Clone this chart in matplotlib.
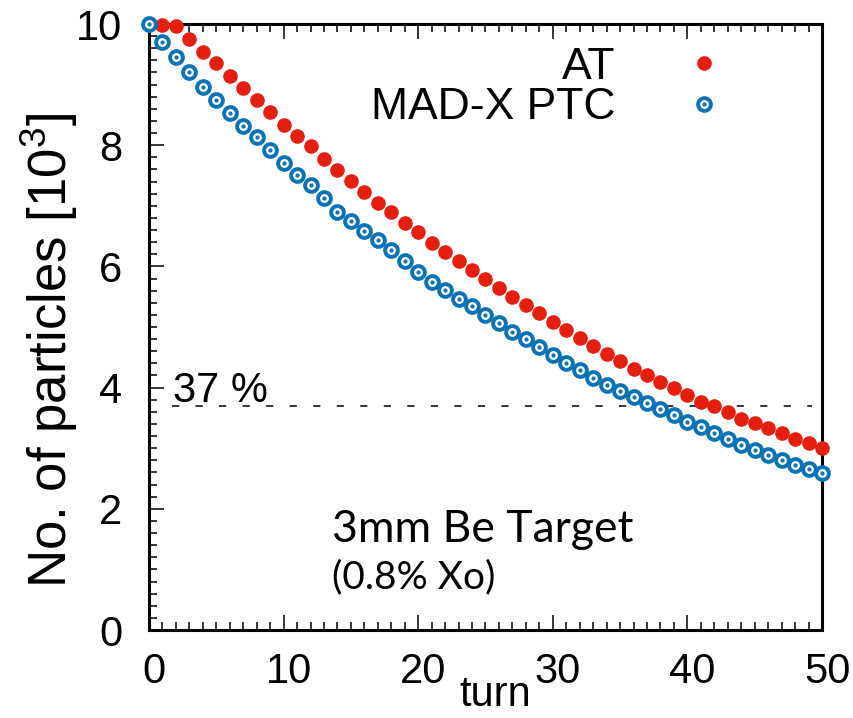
import numpy as np
import matplotlib
matplotlib.use("Agg")
import matplotlib.pyplot as plt
from matplotlib.legend_handler import HandlerTuple
from matplotlib.transforms import ScaledTranslation

plt.rcParams["font.family"] = ["Liberation Sans", "DejaVu Sans"]
plt.rcParams["mathtext.fontset"] = "custom"
plt.rcParams["mathtext.rm"] = "Liberation Sans"
plt.rcParams["mathtext.it"] = "Liberation Sans"

### data (particles in units of 10^3)
turns = np.arange(0, 51)
at_counts = [
    10.00, 9.98, 9.96, 9.75, 9.54, 9.35, 9.14, 8.94, 8.75, 8.55,
    8.33, 8.15, 7.98, 7.78, 7.59, 7.41, 7.22, 7.05, 6.89, 6.72,
    6.56, 6.39, 6.24, 6.09, 5.94, 5.79, 5.64, 5.50, 5.36, 5.23,
    5.09, 4.95, 4.82, 4.69, 4.56, 4.44, 4.31, 4.21, 4.10, 3.99,
    3.87, 3.77, 3.69, 3.59, 3.49, 3.41, 3.33, 3.25, 3.16, 3.08,
    3.00,
]
ptc_counts = [
    10.00, 9.71, 9.46, 9.21, 8.96, 8.75, 8.53, 8.32, 8.13, 7.92,
    7.70, 7.51, 7.34, 7.13, 6.90, 6.75, 6.59, 6.44, 6.27, 6.09,
    5.91, 5.75, 5.61, 5.47, 5.34, 5.20, 5.06, 4.92, 4.80, 4.67,
    4.54, 4.41, 4.29, 4.16, 4.05, 3.95, 3.84, 3.74, 3.64, 3.54,
    3.44, 3.35, 3.25, 3.15, 3.05, 2.97, 2.89, 2.81, 2.72, 2.65,
    2.59,
]
level_37 = 3.7
series_names = ["AT", "MAD-X PTC"]

red = "#e41f10"
blue = "#0b72b5"

fig = plt.figure(figsize=(8.54, 7.18), dpi=100)
ax = fig.add_axes([149 / 854, 88 / 718, 673 / 854, 606 / 718])

# 1/e reference line
ax.axhline(level_37, xmin=0.034, xmax=0.985, color="black", linewidth=1.1,
           linestyle=(0, (4.7, 10.7)), zorder=1)

h_at, = ax.plot(turns, at_counts, linestyle="none", marker="o", markersize=10.5,
                markerfacecolor=red, markeredgewidth=0, clip_on=False, zorder=3)
h_ring, = ax.plot(turns, ptc_counts, linestyle="none", marker="o", markersize=9.2,
                  markerfacecolor="white", markeredgecolor=blue, markeredgewidth=2.8,
                  clip_on=False, zorder=4)
h_dot, = ax.plot(turns, ptc_counts, linestyle="none", marker="o", markersize=3.0,
                 markerfacecolor=blue, markeredgewidth=0, clip_on=False, zorder=5)

ax.set_xlim(0, 50)
ax.set_ylim(0, 10)
ax.set_xticks(np.arange(0, 51, 10))
ax.set_xticks(np.arange(0, 51, 1), minor=True)
ax.set_yticks(np.arange(0, 11, 2))
ax.set_yticks(np.arange(0, 10.01, 0.2), minor=True)

for s in ax.spines.values():
    s.set_linewidth(2.2)

ax.tick_params(axis="both", which="both", direction="in", width=1.1,
               labelsize=30, right=False, top=True)
ax.tick_params(axis="both", which="major", length=10.8)
ax.tick_params(axis="both", which="minor", length=5.5)
ax.tick_params(axis="x", which="major", pad=16)
ax.tick_params(axis="y", which="major", pad=19)

shift = ScaledTranslation(0.05, 0, fig.dpi_scale_trans)
for lab in ax.get_xticklabels():
    lab.set_transform(lab.get_transform() + shift)

ax.set_xlabel("turn", fontsize=30, va="baseline")
ax.xaxis.set_label_coords(0.514, -0.126)
ax.set_ylabel(r"No. of particles [10$^{3}$]", fontsize=38)
ax.yaxis.set_label_coords(-0.102, 0.462)

ax.text(1.8, 3.76, "37 %", fontsize=30, va="baseline", ha="left")
ax.text(13.6, 1.45, "3mm Be Target", fontsize=32, family="Lato",
        va="baseline", ha="left")
ax.text(13.6, 0.69, "(0.8% Xo)", fontsize=28, family="Lato",
        va="baseline", ha="left")

ax.legend([h_at, (h_ring, h_dot)], series_names,
          handler_map={tuple: HandlerTuple(ndivide=1)},
          loc="upper right", bbox_to_anchor=(0.858, 0.962),
          markerfirst=False, frameon=False, fontsize=32,
          handlelength=1.0, handletextpad=1.49, labelspacing=-0.02,
          borderpad=0, borderaxespad=0)

fig.savefig("out.png", dpi=100)
